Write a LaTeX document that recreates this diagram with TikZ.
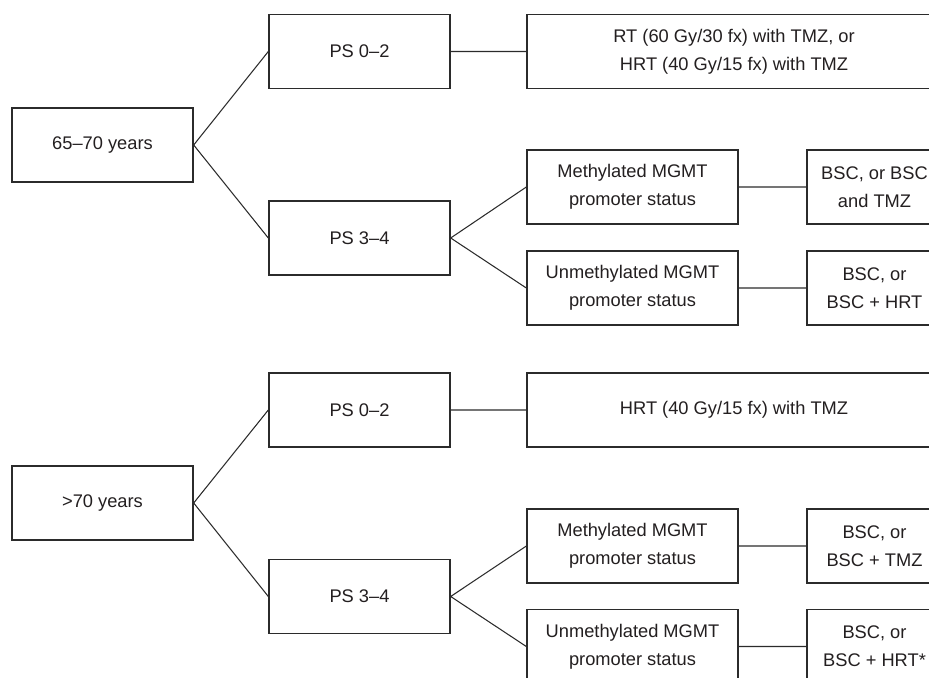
\documentclass[tikz,border=0pt]{standalone}
\usepackage{fontspec}
\setmainfont{Liberation Sans}
\usepackage{tikz}
\usetikzlibrary{positioning}
\definecolor{boxline}{HTML}{2B2B2B}
\definecolor{boxtext}{HTML}{231F20}

\begin{document}
\begin{tikzpicture}[x=0.02cm, y=-0.02cm,
    box/.style={draw=boxline, line width=0.8pt, fill=white, text=boxtext,
                align=center, inner sep=2pt, minimum height=1.48cm,
                font=\fontsize{10.4}{16}\selectfont},
    agebox/.style={box, minimum width=3.62cm},
    psbox/.style={box, minimum width=3.62cm},
    mgmtbox/.style={box, minimum width=4.22cm},
    widebox/.style={box, minimum width=8.28cm},
    bscbox/.style={box, minimum width=2.70cm},
    link/.style={draw=boxline, line width=0.6pt}]
    \useasboundingbox (0,0) rectangle (929,678);
    \clip (0,0) rectangle (929,678);
    % 65--70 years
    \node[agebox]  (a1) at (102.5, 145)   {65--70 years};
    \node[psbox]   (p1) at (359.5, 51.5)  {PS 0--2};
    \node[psbox]   (p2) at (359.5, 238)   {PS 3--4};
    \node[widebox] (r1) at (734, 51.5)    {RT (60 Gy/30 fx) with TMZ, or\\HRT (40 Gy/15 fx) with TMZ};
    \node[mgmtbox] (m1) at (632.5, 187)   {Methylated MGMT\\promoter status};
    \node[mgmtbox] (u1) at (632.5, 288)   {Unmethylated MGMT\\promoter status};
    \node[bscbox]  (b1) at (874.5, 187)   {BSC, or BSC\\and TMZ};
    \node[bscbox]  (b2) at (874.5, 288)   {BSC, or\\BSC + HRT};
    % >70 years
    \node[agebox]  (a2) at (102.5, 503)   {>70 years};
    \node[psbox]   (q1) at (359.5, 410)   {PS 0--2};
    \node[psbox]   (q2) at (359.5, 596.5) {PS 3--4};
    \node[widebox] (r2) at (734, 410)     {HRT (40 Gy/15 fx) with TMZ};
    \node[mgmtbox] (m2) at (632.5, 546)   {Methylated MGMT\\promoter status};
    \node[mgmtbox] (u2) at (632.5, 646.5) {Unmethylated MGMT\\promoter status};
    \node[bscbox]  (b3) at (874.5, 546)   {BSC, or\\BSC + TMZ};
    \node[bscbox]  (b4) at (874.5, 646.5) {BSC, or\\BSC + HRT*};
    \path[link] (a1.east) -- (p1.west)  (a1.east) -- (p2.west)
                (p1.east) -- (r1.west)
                (p2.east) -- (m1.west)  (p2.east) -- (u1.west)
                (m1.east) -- (b1.west)  (u1.east) -- (b2.west);
    \path[link] (a2.east) -- (q1.west)  (a2.east) -- (q2.west)
                (q1.east) -- (r2.west)
                (q2.east) -- (m2.west)  (q2.east) -- (u2.west)
                (m2.east) -- (b3.west)  (u2.east) -- (b4.west);
\end{tikzpicture}
\end{document}
